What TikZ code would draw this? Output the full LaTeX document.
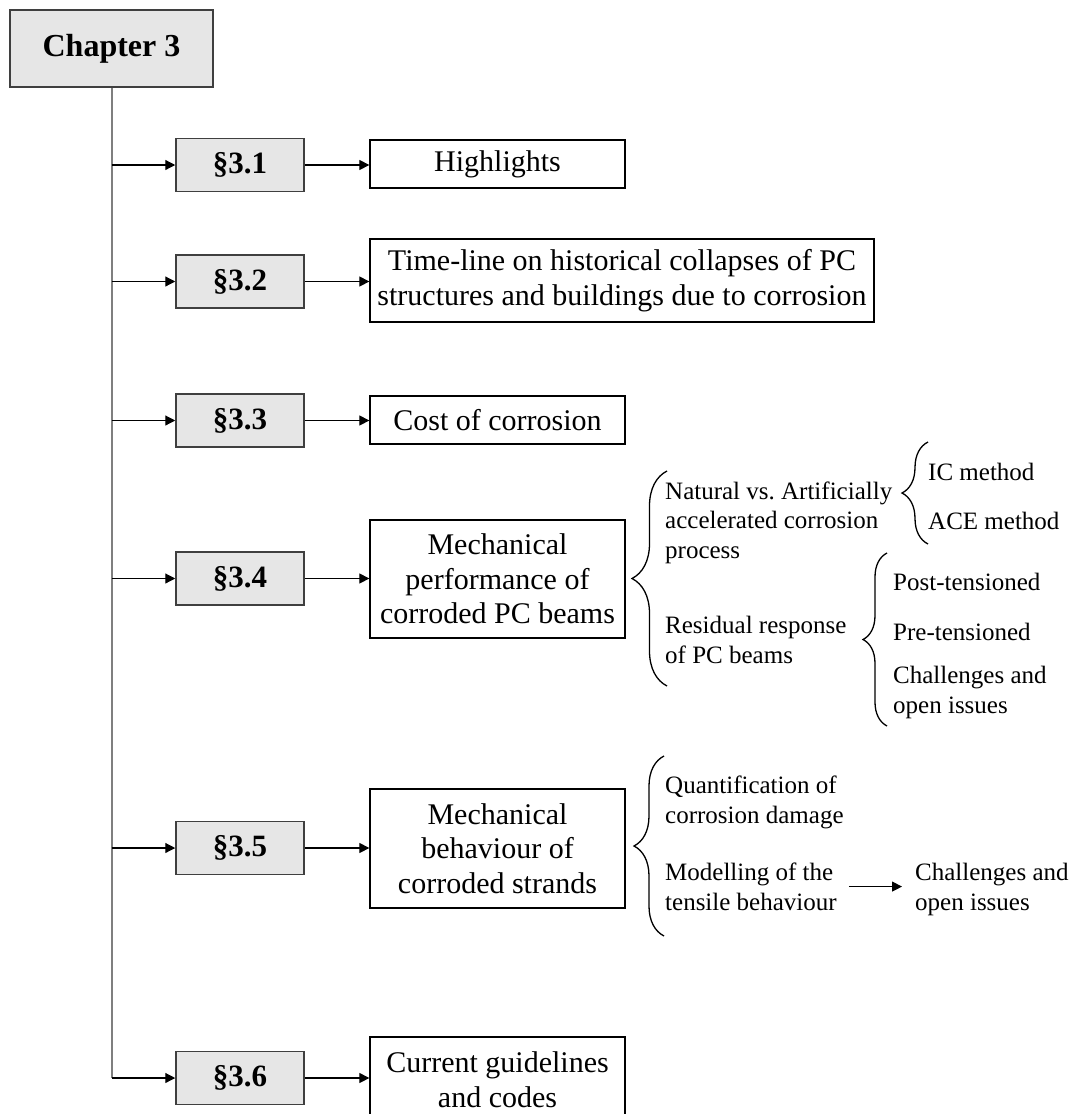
\documentclass[tikz,border=0pt]{standalone}
\usepackage{fontspec}
\setmainfont{Liberation Serif}
\usetikzlibrary{arrows.meta,decorations.pathreplacing,calc}
\definecolor{boxgray}{HTML}{E6E6E6}
\definecolor{framegray}{HTML}{3F3F3F}
\definecolor{spinegray}{HTML}{7F7F7F}
\begin{document}
\begin{tikzpicture}[x=1pt,y=-1pt,
  chapbox/.style={draw=framegray, line width=1.5pt, fill=boxgray,
    minimum width=203pt, minimum height=77pt, inner sep=0pt,
    font=\fontsize{32}{36}\selectfont\bfseries},
  secbox/.style={draw=framegray, line width=1.5pt, fill=boxgray,
    minimum width=128pt, minimum height=53pt, inner sep=0pt,
    font=\fontsize{31}{35}\selectfont\bfseries},
  topicbox/.style={draw=black, line width=1.3pt, fill=white,
    minimum width=255pt, inner sep=0pt, align=center,
    font=\fontsize{30}{34.5}\selectfont},
  note/.style={anchor=base west, inner sep=0pt, align=left,
    font=\fontsize{25}{29.5}\selectfont},
  link/.style={line width=1.2pt, -{Triangle[length=10pt,width=10pt]}},
  spine/.style={draw=spinegray, line width=2pt},
  curly/.style={decorate, decoration={brace, amplitude=#1}, line width=1.3pt},
  curly/.default=30,
]
\useasboundingbox (0,0) rectangle (1074,1114);
\clip (0,0) rectangle (1074,1114);

% chapter heading
\node[chapbox] (chap) at (111.5,48.5) {Chapter 3};

% section boxes
\node[secbox] (s1) at (240,165)   {§3.1};
\node[secbox] (s2) at (240,281.5) {§3.2};
\node[secbox] (s3) at (240,420.5) {§3.3};
\node[secbox] (s4) at (240,578.5) {§3.4};
\node[secbox] (s5) at (240,848)   {§3.5};
\node[secbox] (s6) at (240,1078)  {§3.6};

% topic boxes
\node[topicbox, minimum height=48pt] (t1) at (497.5,164) {Highlights};
\node[topicbox, minimum width=504pt, minimum height=83pt] (t2) at (622,280.5)
  {Time-line on historical collapses of PC\\structures and buildings due to corrosion};
\node[topicbox, minimum height=48pt] (t3) at (497.5,420) {Cost of corrosion};
\node[topicbox, minimum height=118pt] (t4) at (497.5,579)
  {Mechanical\\performance of\\corroded PC beams};
\node[topicbox, minimum height=119pt] (t5) at (497.5,848.5)
  {Mechanical\\behaviour of\\corroded strands};
\node[topicbox, minimum height=85pt] (t6) at (497.5,1079.5)
  {Current guidelines\\and codes};

% spine and branches
\draw[spine] (chap.south) -- (s6.west -| chap.south);
\foreach \s in {s1,s2,s3,s4,s5,s6}
  \draw[link] (\s.west -| chap.south) -- (\s.west);
\foreach \s/\t in {s1/t1,s2/t2,s3/t3,s4/t4,s5/t5,s6/t6}
  \draw[link] (\s.east) -- (\s.east -| \t.west);

% sub-topics of section 3.4 (notes are placed by the baseline of their last line)
\coordinate (b1top) at (667,471);
\coordinate (b1bot) at (667,686);
\draw[curly=35] (b1bot) -- (b1top);
\node[note] (n1) at (665,558) {Natural vs.\ Artificially\\accelerated corrosion\\process};
\node[note] (n2) at (665,663) {Residual response\\of PC beams};

\coordinate (b2top) at (928,442);
\coordinate (b2bot) at (928,544);
\draw[curly=26] (b2bot) -- (b2top);
\node[note] (n3) at (928,480) {IC method};
\node[note] (n4) at (928,529) {ACE method};

\coordinate (b3top) at (887,553);
\coordinate (b3bot) at (887,726);
\draw[curly=24] (b3bot) -- (b3top);
\node[note] (n5) at (893,590) {Post-tensioned};
\node[note] (n6) at (893,640) {Pre-tensioned};
\node[note] (n7) at (893,713) {Challenges and\\open issues};

% sub-topics of section 3.5
\coordinate (b4top) at (664,756);
\coordinate (b4bot) at (664,936);
\draw[curly=30] (b4bot) -- (b4top);
\node[note] (n8) at (665,823) {Quantification of\\corrosion damage};
\node[note] (n9) at (665,910) {Modelling of the\\tensile behaviour};
\node[note] (n10) at (915,910) {Challenges and\\open issues};
\draw[link] ($(n9.east)+(12,0)$) -- ($(n9.east -| n10.west)+(-13,0)$);
\end{tikzpicture}
\end{document}
